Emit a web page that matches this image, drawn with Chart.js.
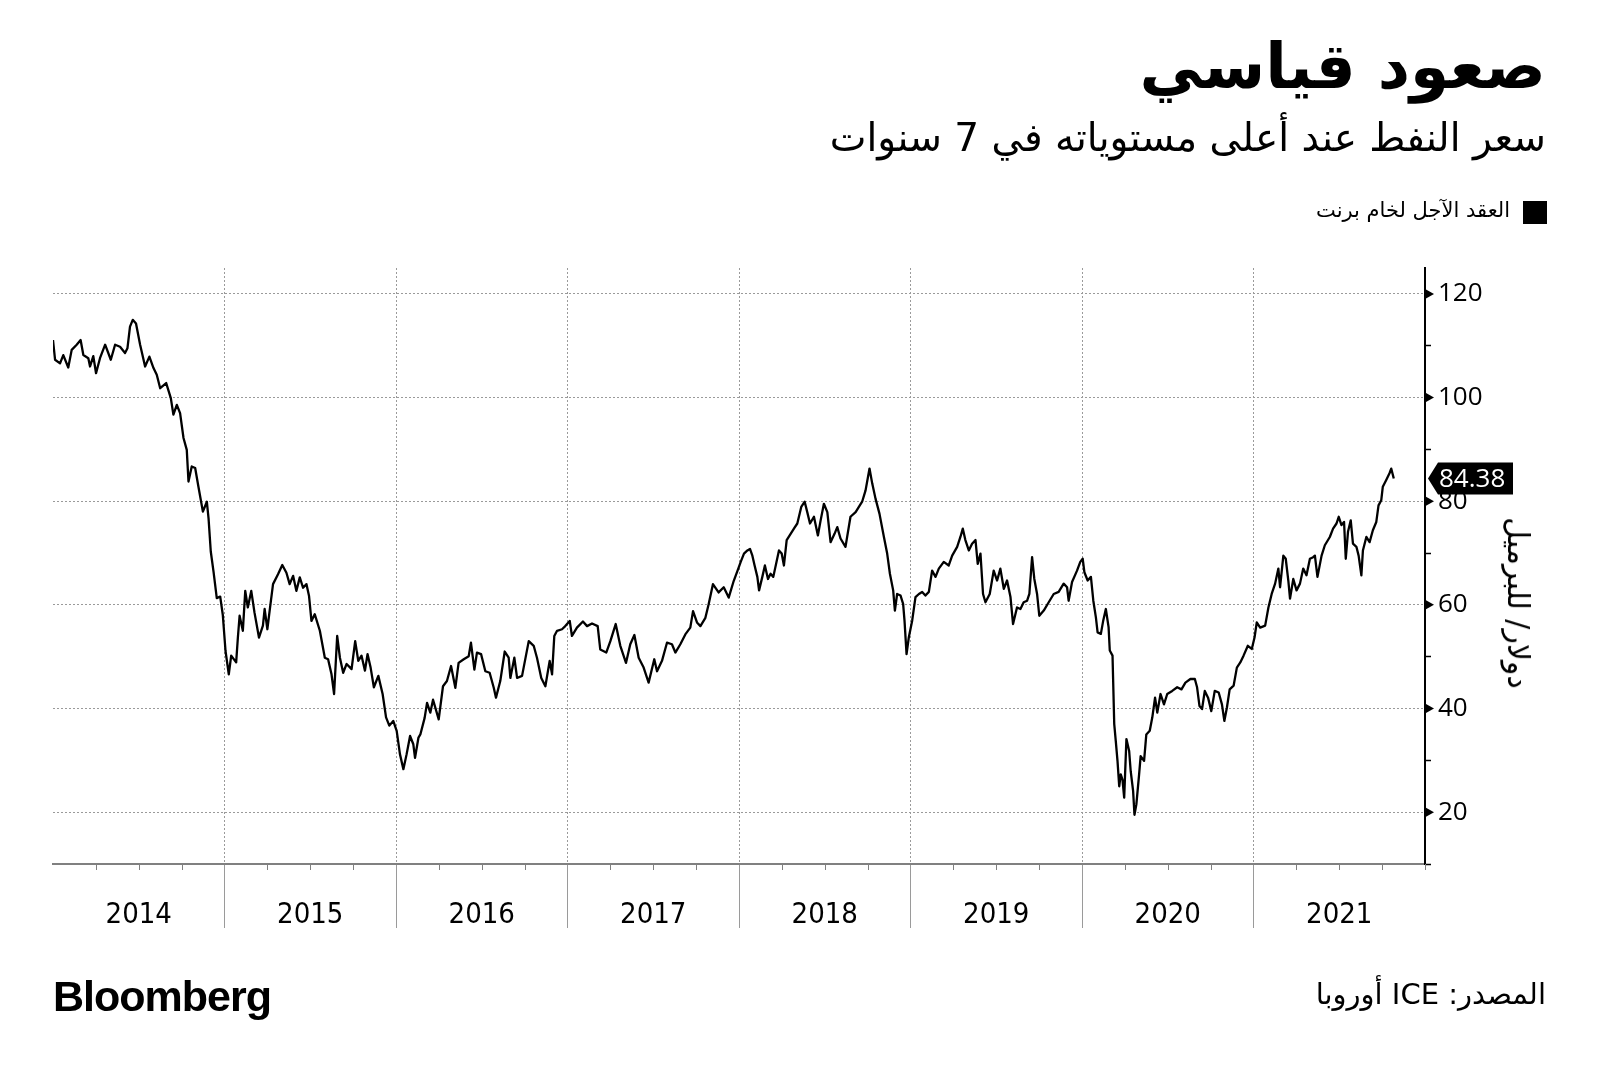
<!DOCTYPE html>
<html lang="ar">
<head>
<meta charset="utf-8">
<script src="https://cdn.jsdelivr.net/npm/chart.js@4.4.1/dist/chart.umd.min.js"></script>
<style>
html,body{margin:0;padding:0;background:#fff;}
body{width:1600px;height:1078px;position:relative;overflow:hidden;font-family:"DejaVu Sans",sans-serif;}
#wrap{position:absolute;left:0;top:0;width:1600px;height:1078px;}
.t{position:absolute;white-space:nowrap;direction:rtl;color:#000;line-height:1;}
#title{right:54px;top:35px;font-size:63px;font-weight:bold;}
#sub{right:54px;top:118px;font-size:39px;}
#legsq{position:absolute;left:1523px;top:201px;width:24px;height:23px;background:#000;}
#legtx{right:90px;top:200px;font-size:21px;}
#src{right:54px;top:980px;font-size:29px;}
#logo{position:absolute;left:53px;top:975px;font:bold 43px "Liberation Sans",Arial,sans-serif;letter-spacing:-1px;line-height:1;color:#000;}
#ytitle{position:absolute;left:1518px;top:603px;transform:translate(-50%,-50%) rotate(90deg);font-size:30px;white-space:nowrap;line-height:1;direction:rtl;}
</style>
</head>
<body>
<div id="wrap"><canvas id="c"></canvas></div>
<div class="t" id="title">صعود قياسي</div>
<div class="t" id="sub">سعر النفط عند أعلى مستوياته في 7 سنوات</div>
<div id="legsq"></div>
<div class="t" id="legtx">العقد الآجل لخام برنت</div>
<div id="ytitle">دولار/ للبرميل</div>
<div class="t" id="src">المصدر: ICE أوروبا</div>
<div id="logo">Bloomberg</div>
<script>
// Time as fractional years
const yearFrac = [
2014.000,2014.012,2014.041,2014.060,2014.089,2014.109,2014.138,2014.161,2014.177,2014.206,
2014.216,2014.235,2014.251,2014.274,2014.304,2014.337,2014.362,2014.391,2014.420,2014.434,
2014.449,2014.465,2014.484,2014.508,2014.537,2014.562,2014.586,2014.605,2014.625,2014.660,
2014.687,2014.702,2014.722,2014.741,2014.761,2014.780,2014.790,2014.809,2014.829,2014.848,
2014.874,2014.897,2014.907,2014.920,2014.936,2014.955,2014.975,2014.990,2015.006,2015.025,
2015.039,2015.068,2015.078,2015.088,2015.107,2015.121,2015.136,2015.156,2015.175,2015.201,
2015.224,2015.234,2015.250,2015.263,2015.283,2015.312,2015.337,2015.361,2015.380,2015.400,
2015.419,2015.439,2015.458,2015.478,2015.493,2015.507,2015.526,2015.556,2015.585,2015.604,
2015.624,2015.639,2015.657,2015.673,2015.692,2015.712,2015.741,2015.762,2015.780,2015.799,
2015.819,2015.834,2015.852,2015.871,2015.897,2015.922,2015.942,2015.961,2015.984,2016.004,
2016.023,2016.043,2016.062,2016.082,2016.101,2016.111,2016.131,2016.142,2016.167,2016.181,
2016.200,2016.216,2016.249,2016.274,2016.297,2016.321,2016.346,2016.365,2016.395,2016.424,
2016.437,2016.457,2016.472,2016.496,2016.521,2016.546,2016.570,2016.583,2016.608,2016.634,
2016.657,2016.667,2016.690,2016.706,2016.735,2016.774,2016.803,2016.822,2016.847,2016.871,
2016.896,2016.910,2016.923,2016.939,2016.968,2016.987,2017.013,2017.026,2017.055,2017.090,
2017.114,2017.143,2017.176,2017.191,2017.226,2017.250,2017.281,2017.308,2017.341,2017.366,
2017.390,2017.415,2017.444,2017.473,2017.506,2017.522,2017.551,2017.580,2017.609,2017.629,
2017.658,2017.687,2017.716,2017.732,2017.755,2017.775,2017.804,2017.823,2017.848,2017.881,
2017.911,2017.940,2017.969,2017.998,2018.010,2018.029,2018.049,2018.064,2018.078,2018.091,
2018.107,2018.117,2018.136,2018.151,2018.169,2018.184,2018.200,2018.233,2018.249,2018.262,
2018.278,2018.301,2018.324,2018.340,2018.363,2018.383,2018.398,2018.414,2018.437,2018.460,
2018.476,2018.495,2018.515,2018.534,2018.557,2018.573,2018.592,2018.621,2018.650,2018.680,
2018.699,2018.718,2018.738,2018.761,2018.777,2018.796,2018.819,2018.845,2018.864,2018.880,
2018.899,2018.909,2018.922,2018.942,2018.957,2018.965,2018.977,2018.990,2019.010,2019.029,
2019.049,2019.068,2019.087,2019.107,2019.126,2019.146,2019.165,2019.194,2019.223,2019.243,
2019.272,2019.291,2019.305,2019.320,2019.340,2019.359,2019.379,2019.392,2019.408,2019.423,
2019.437,2019.462,2019.485,2019.505,2019.524,2019.544,2019.563,2019.583,2019.598,2019.621,
2019.641,2019.660,2019.680,2019.693,2019.709,2019.722,2019.738,2019.751,2019.777,2019.806,
2019.835,2019.864,2019.893,2019.913,2019.922,2019.942,2019.971,2019.990,2020.004,2020.014,
2020.033,2020.052,2020.066,2020.081,2020.091,2020.110,2020.124,2020.139,2020.155,2020.162,
2020.178,2020.188,2020.197,2020.207,2020.217,2020.226,2020.236,2020.246,2020.259,2020.275,
2020.284,2020.298,2020.306,2020.317,2020.333,2020.342,2020.362,2020.375,2020.395,2020.410,
2020.426,2020.439,2020.458,2020.478,2020.497,2020.526,2020.555,2020.580,2020.603,2020.632,
2020.658,2020.671,2020.685,2020.700,2020.716,2020.735,2020.754,2020.774,2020.797,2020.816,
2020.830,2020.845,2020.861,2020.884,2020.903,2020.923,2020.942,2020.967,2020.990,2021.006,
2021.019,2021.039,2021.068,2021.087,2021.106,2021.126,2021.145,2021.155,2021.174,2021.188,
2021.203,2021.213,2021.232,2021.251,2021.271,2021.290,2021.309,2021.329,2021.348,2021.358,
2021.373,2021.397,2021.416,2021.445,2021.464,2021.484,2021.497,2021.513,2021.528,2021.538,
2021.551,2021.567,2021.580,2021.600,2021.613,2021.629,2021.638,2021.658,2021.677,2021.696,
2021.716,2021.729,2021.745,2021.754,2021.774,2021.793,2021.803,2021.818
];
// Brent front-month, USD per barrel
const brent = [
111.1,107.3,106.6,108.2,105.8,109.2,110.2,111.1,108.2,107.6,
106.0,108.0,104.7,107.6,110.2,107.3,110.2,109.8,108.6,109.5,
113.7,115.0,114.3,110.2,106.0,107.9,105.7,104.4,101.8,102.8,
99.9,96.7,98.6,97.0,92.2,89.9,83.8,86.7,86.4,82.8,
78.0,79.9,76.7,70.3,66.4,61.3,61.6,58.1,51.1,46.6,
50.2,48.9,53.7,57.9,55.0,62.7,59.5,62.7,58.5,53.7,
56.0,59.2,55.3,58.8,64.0,65.9,67.7,66.2,64.0,65.6,
62.7,65.3,63.3,64.0,61.7,56.9,58.2,55.0,49.8,49.5,
46.6,42.8,54.0,49.8,46.9,48.6,47.6,53.0,49.2,50.2,
47.3,50.5,47.9,44.1,46.3,42.8,38.3,36.7,37.6,35.7,
31.2,28.3,31.2,34.7,33.1,30.5,34.4,35.0,38.2,41.1,
39.2,41.7,37.9,44.3,45.3,48.2,44.0,48.8,49.5,50.1,
52.7,47.5,50.8,50.5,47.2,46.9,44.0,42.1,45.3,51.0,
49.8,45.9,49.8,45.9,46.3,53.0,52.1,49.8,45.9,44.3,
49.2,46.6,54.0,55.0,55.3,55.9,56.9,54.0,55.6,56.8,
55.9,56.4,55.9,51.4,50.8,53.0,56.3,52.1,48.8,52.4,
54.2,49.8,47.9,45.0,49.5,47.2,49.2,52.7,52.4,50.8,
52.4,54.3,55.6,58.8,56.6,55.9,57.5,60.1,64.0,62.4,
63.4,61.4,64.6,67.2,68.3,69.9,70.5,70.8,69.5,67.6,
65.4,62.8,65.4,67.6,65.0,66.0,65.4,70.5,69.9,67.6,
72.5,73.7,74.9,75.7,78.9,79.9,77.9,75.7,77.0,73.4,
76.3,79.5,77.9,72.1,73.7,75.0,72.8,71.2,77.0,77.9,
78.9,79.9,82.1,86.3,83.4,80.5,77.6,73.1,69.9,66.0,
62.8,58.9,62.1,61.8,60.2,57.0,50.5,53.7,57.0,61.5,
62.1,62.5,61.8,62.5,66.6,65.4,67.0,68.3,67.6,69.5,
71.2,73.1,74.7,72.5,70.5,71.8,72.5,67.9,69.9,62.1,
60.5,62.1,66.6,64.7,67.0,63.1,64.7,61.5,56.3,59.5,
59.2,60.5,60.8,62.1,69.2,65.0,62.1,57.9,58.9,60.5,
62.1,62.5,64.1,63.4,60.8,64.4,66.6,68.3,68.9,66.3,
64.7,65.4,60.8,57.6,54.7,54.4,57.0,59.2,55.7,51.2,
50.2,37.0,33.7,29.9,25.0,27.3,26.3,22.8,34.1,31.8,
27.9,24.1,19.5,21.5,27.3,30.8,29.9,35.0,35.7,38.3,
42.1,39.2,42.8,40.8,42.8,43.4,44.1,43.7,45.0,45.7,
45.7,44.1,40.5,39.9,43.4,42.1,39.5,43.4,43.1,40.8,
37.6,40.2,43.7,44.4,47.9,48.9,50.2,52.1,51.5,53.7,
56.6,55.6,56.0,59.5,62.1,64.1,67.0,63.4,69.5,68.9,
64.7,61.2,65.0,62.8,64.1,67.0,65.7,68.9,69.2,69.5,
65.4,69.5,71.5,73.1,74.7,75.7,77.0,75.4,76.0,68.9,
74.1,76.3,71.8,71.2,69.5,65.7,70.5,73.1,72.1,74.4,
76.0,79.2,80.2,82.8,84.1,85.4,86.3,84.38
];
const yearLabels = ['2014','2015','2016','2017','2018','2019','2020','2021'];
const firstYear = 2014, lastYear = 2022;
const yMajorTicks = [20,40,60,80,100,120];
const yMinorTicks = [10,30,50,70,90,110];
const yMin = 10, yMax = 125;

const points = yearFrac.map((t,i)=>({x:t, y:brent[i]}));
const isInnerYear = v => Number.isInteger(v) && v > firstYear && v < lastYear;

// narrow face for the year labels if one is available (stretch keyword passed through the weight slot)
const probe = document.createElement('canvas').getContext('2d');
probe.font = '29px "DejaVu Sans"';
const wNormal = probe.measureText('2014').width;
probe.font = 'condensed 29px "DejaVu Sans"';
const wCond = probe.measureText('2014').width;
const xFont = (wCond < wNormal * 0.95)
  ? { family:'"DejaVu Sans"', size:29, weight:'condensed' }
  : { family:'"Liberation Sans",Arial,sans-serif', size:28 };

const decor = {
  id:'decor',
  afterDraw(chart){
    const {ctx, scales:{x,y}, chartArea:a} = chart;
    ctx.save();
    ctx.strokeStyle = '#808080'; ctx.lineWidth = 1;
    for (let yr = firstYear; yr <= lastYear; yr++) {
      const qs = yr < lastYear ? [0.25,0.5,0.75] : [0];
      for (const q of qs) {
        const px = Math.round(x.getPixelForValue(yr+q)) + 0.5;
        ctx.beginPath(); ctx.moveTo(px, a.bottom); ctx.lineTo(px, a.bottom + 6); ctx.stroke();
      }
    }
    ctx.fillStyle = '#000';
    const ax = a.right + 1;
    yMajorTicks.forEach(v => {
      const py = y.getPixelForValue(v);
      ctx.beginPath(); ctx.moveTo(ax, py-4.5); ctx.lineTo(ax+8, py); ctx.lineTo(ax, py+4.5); ctx.closePath(); ctx.fill();
    });
    const last = brent[brent.length-1];
    const py = y.getPixelForValue(last);
    ctx.beginPath();
    ctx.moveTo(ax+2, py); ctx.lineTo(ax+12, py-16); ctx.lineTo(ax+87, py-16);
    ctx.lineTo(ax+87, py+16); ctx.lineTo(ax+12, py+16); ctx.closePath(); ctx.fill();
    ctx.fillStyle = '#fff'; ctx.font = '26px "Open Sans", sans-serif';
    ctx.textBaseline = 'middle'; ctx.textAlign = 'left';
    ctx.fillText(last.toFixed(2), ax+13, py+1);
    ctx.restore();
  }
};

new Chart(document.getElementById('c'), {
  type:'line',
  data:{ datasets:[{ data:points, borderColor:'#000', borderWidth:2.3, pointRadius:0, tension:0, borderJoinStyle:'round' }] },
  options:{
    responsive:true, maintainAspectRatio:false, animation:false,
    layout:{ padding:{ left:53, top:268, right:75, bottom:114 } },
    plugins:{ legend:{display:false}, tooltip:{enabled:false} },
    scales:{
      x:{
        type:'linear', min:firstYear, max:lastYear,
        afterBuildTicks: s => {
          const t = [];
          for (let yr = firstYear; yr <= lastYear; yr++) { t.push({value:yr}); if (yr < lastYear) t.push({value:yr+0.5}); }
          s.ticks = t;
        },
        afterFit: s => { s.height = 100; },
        ticks:{
          autoSkip:false, maxRotation:0, minRotation:0, padding:-30, color:'#000',
          font: xFont,
          callback: v => { const i = Math.floor(v) - firstYear; return (Math.abs(v % 1 - 0.5) < 1e-6 && i >= 0 && i < yearLabels.length) ? yearLabels[i] : ''; }
        },
        grid:{
          color: c => isInnerYear(c.tick && c.tick.value) ? '#9a9a9a' : 'rgba(0,0,0,0)',
          tickColor: c => isInnerYear(c.tick && c.tick.value) ? '#9a9a9a' : 'rgba(0,0,0,0)',
          lineWidth:1, tickWidth:1, tickLength:64, tickBorderDash:[]
        },
        border:{ display:true, color:'#808080', width:2, dash:[2,2] }
      },
      y:{
        type:'linear', position:'right', min:yMin, max:yMax,
        afterBuildTicks: s => { s.ticks = yMinorTicks.concat(yMajorTicks).sort((a,b)=>a-b).map(v=>({value:v})); },
        afterFit: s => { s.width = 100; },
        ticks:{
          autoSkip:false, padding:7, color:'#000',
          font:{ family:'"Open Sans",sans-serif', size:26 },
          callback: v => yMajorTicks.includes(v) ? String(v) : ''
        },
        grid:{
          color: c => yMajorTicks.includes(c.tick && c.tick.value) ? '#9a9a9a' : 'rgba(0,0,0,0)',
          tickColor:'#000', lineWidth:1, tickWidth:1.5, tickLength:6, tickBorderDash:[]
        },
        border:{ display:true, color:'#000', width:2, dash:[2,2] }
      }
    }
  },
  plugins:[decor]
});
</script>
</body>
</html>
